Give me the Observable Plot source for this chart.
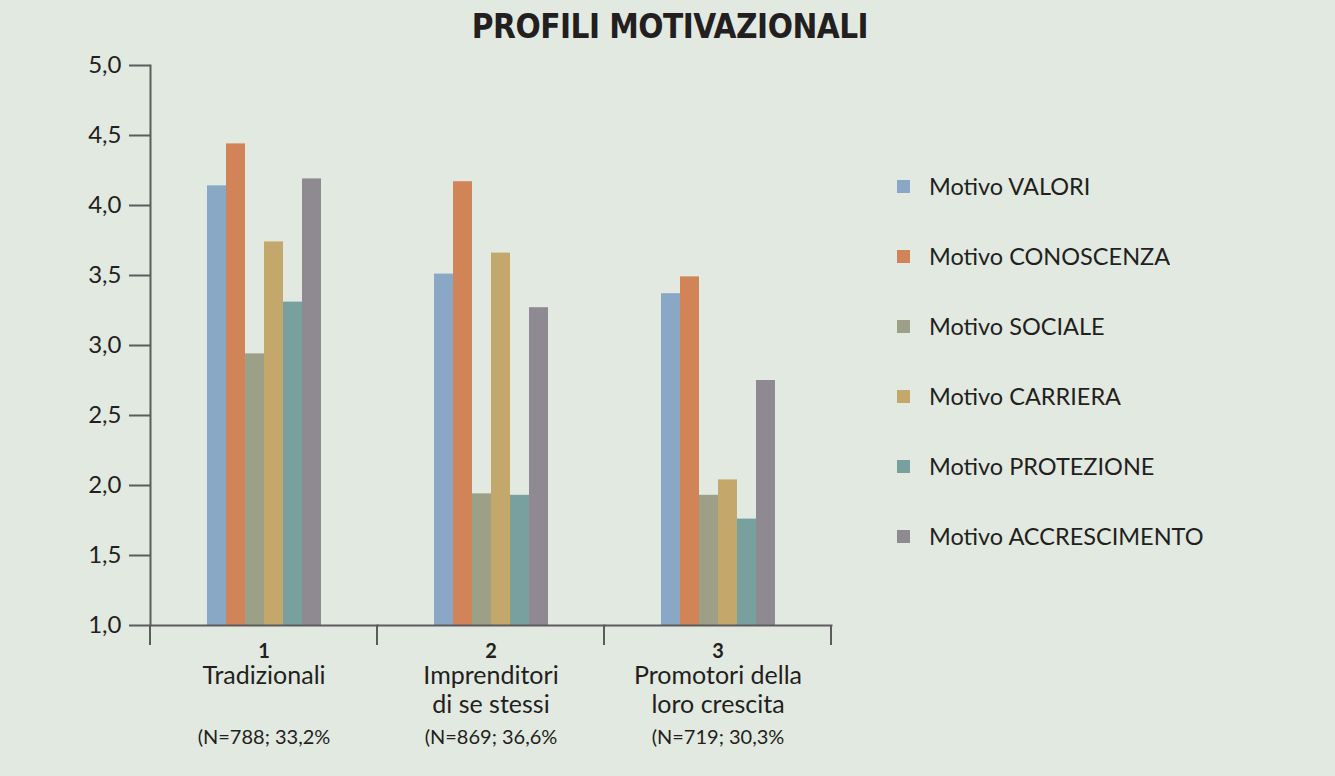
<!DOCTYPE html>
<html>
<head>
<meta charset="utf-8">
<script src="https://cdn.jsdelivr.net/npm/d3@7"></script>
<script src="https://cdn.jsdelivr.net/npm/@observablehq/plot@0.6"></script>
<style>
  html, body { margin: 0; padding: 0; background: #e2e9e1; }
  #wrap { position: relative; width: 1335px; height: 776px; background: #e2e9e1; overflow: hidden; }
  #title { position: absolute; left: 0; width: 1340px; top: 10px; text-align: center;
           font-family: "Liberation Sans Narrow", "DejaVu Sans Condensed", "Liberation Sans", sans-serif;
           font-weight: bold; font-size: 33px; line-height: 34px; letter-spacing: -0.5px; color: #231f20; }
  #chart { position: absolute; left: 0; top: 0; }
  #legend { position: absolute; left: 897px; top: 151px; width: 430px; }
  .leg-swatches { font-family: Lato, "Open Sans", sans-serif !important; font-size: 23.5px !important;
                  color: #231f20 !important; margin: 0 !important; }
  .leg-swatch { height: 70px !important; padding: 0 !important; display: flex !important; align-items: center !important; }
  .leg-swatch svg { margin-right: 19px !important; }
</style>
</head>
<body>
<div id="wrap">
  <div id="chart"></div>
  <div id="title">PROFILI MOTIVAZIONALI</div>
  <div id="legend"></div>
</div>
<script>
// ---- data ----
const gruppi = ["1", "2", "3"];
const nomiGruppi = ["Tradizionali", "Imprenditori\ndi se stessi", "Promotori della\nloro crescita"];
const campioni = ["(N=788; 33,2%", "(N=869; 36,6%", "(N=719; 30,3%"];
const motivi = ["Motivo VALORI", "Motivo CONOSCENZA", "Motivo SOCIALE", "Motivo CARRIERA", "Motivo PROTEZIONE", "Motivo ACCRESCIMENTO"];
const valoriGruppo1 = [4.14, 4.44, 2.94, 3.74, 3.31, 4.19];
const valoriGruppo2 = [3.51, 4.17, 1.94, 3.66, 1.93, 3.27];
const valoriGruppo3 = [3.37, 3.49, 1.93, 2.04, 1.76, 2.75];
const colori = ["#88a8c5", "#d08458", "#9ba086", "#c4a76b", "#77a09e", "#8f8a91"];
const yTicks = [1, 1.5, 2, 2.5, 3, 3.5, 4, 4.5, 5];

// ---- table ----
const serie = [valoriGruppo1, valoriGruppo2, valoriGruppo3];
const rows = [];
gruppi.forEach((g, i) => motivi.forEach((m, j) => rows.push({gruppo: g, motivo: m, valore: serie[i][j]})));
const nomeDi = Object.fromEntries(gruppi.map((g, i) => [g, nomiGruppi[i]]));
const campioneDi = Object.fromEntries(gruppi.map((g, i) => [g, campioni[i]]));

const axisColor = "#5c5c5c";
const textColor = "#231f20";
const font = "Lato, 'Open Sans', sans-serif";

const chart = Plot.plot({
  width: 1335,
  height: 776,
  marginLeft: 149,
  marginRight: 504,
  marginTop: 65,
  marginBottom: 151,
  style: {background: "transparent", color: textColor, fontFamily: font, overflow: "visible"},
  fx: {domain: gruppi, padding: 0},
  x: {domain: motivi, paddingInner: 0, paddingOuter: 2.82, axis: null},
  y: {domain: [1, 5]},
  color: {domain: motivi, range: colori},
  marks: [
    Plot.barY(rows, {fx: "gruppo", x: "motivo", y1: 1, y2: "valore", fill: "motivo"}),
    Plot.frame({anchor: "left", facetAnchor: "left", stroke: axisColor, strokeWidth: 2}),
    Plot.frame({anchor: "bottom", stroke: axisColor, strokeWidth: 2}),
    Plot.axisY({ticks: yTicks, tickFormat: d => d.toFixed(1).replace(".", ","), tickSize: 21, tickPadding: 8,
                fontSize: 24, stroke: axisColor, strokeWidth: 2, label: null}),
    Plot.axisFx({anchor: "bottom", tickSize: 0, tickPadding: 18, fontSize: 20, fontWeight: "bold", label: null}),
    Plot.axisFx({anchor: "bottom", tickSize: 0, tickPadding: 38, fontSize: 25, lineHeight: 1.16,
                 tickFormat: d => nomeDi[d], label: null}),
    Plot.axisFx({anchor: "bottom", tickSize: 0, tickPadding: 104, fontSize: 20,
                 tickFormat: d => campioneDi[d], label: null})
  ]
});

// tick marks at group boundaries on the x axis, placed from the plot's own scales
const fx = chart.scale("fx"), y = chart.scale("y");
const edges = [...gruppi.map(g => fx.apply(g)), fx.apply(gruppi[gruppi.length - 1]) + fx.bandwidth];
d3.select(chart).append("g")
  .selectAll("line").data(edges).join("line")
  .attr("x1", d => d).attr("x2", d => d)
  .attr("y1", y.apply(1)).attr("y2", y.apply(1) + 20)
  .attr("stroke", axisColor).attr("stroke-width", 2);

document.getElementById("chart").appendChild(chart);

const legend = Plot.legend({
  color: {domain: motivi, range: colori},
  legend: "swatches",
  columns: 1,
  swatchSize: 13,
  className: "leg"
});
document.getElementById("legend").appendChild(legend);
</script>
</body>
</html>
